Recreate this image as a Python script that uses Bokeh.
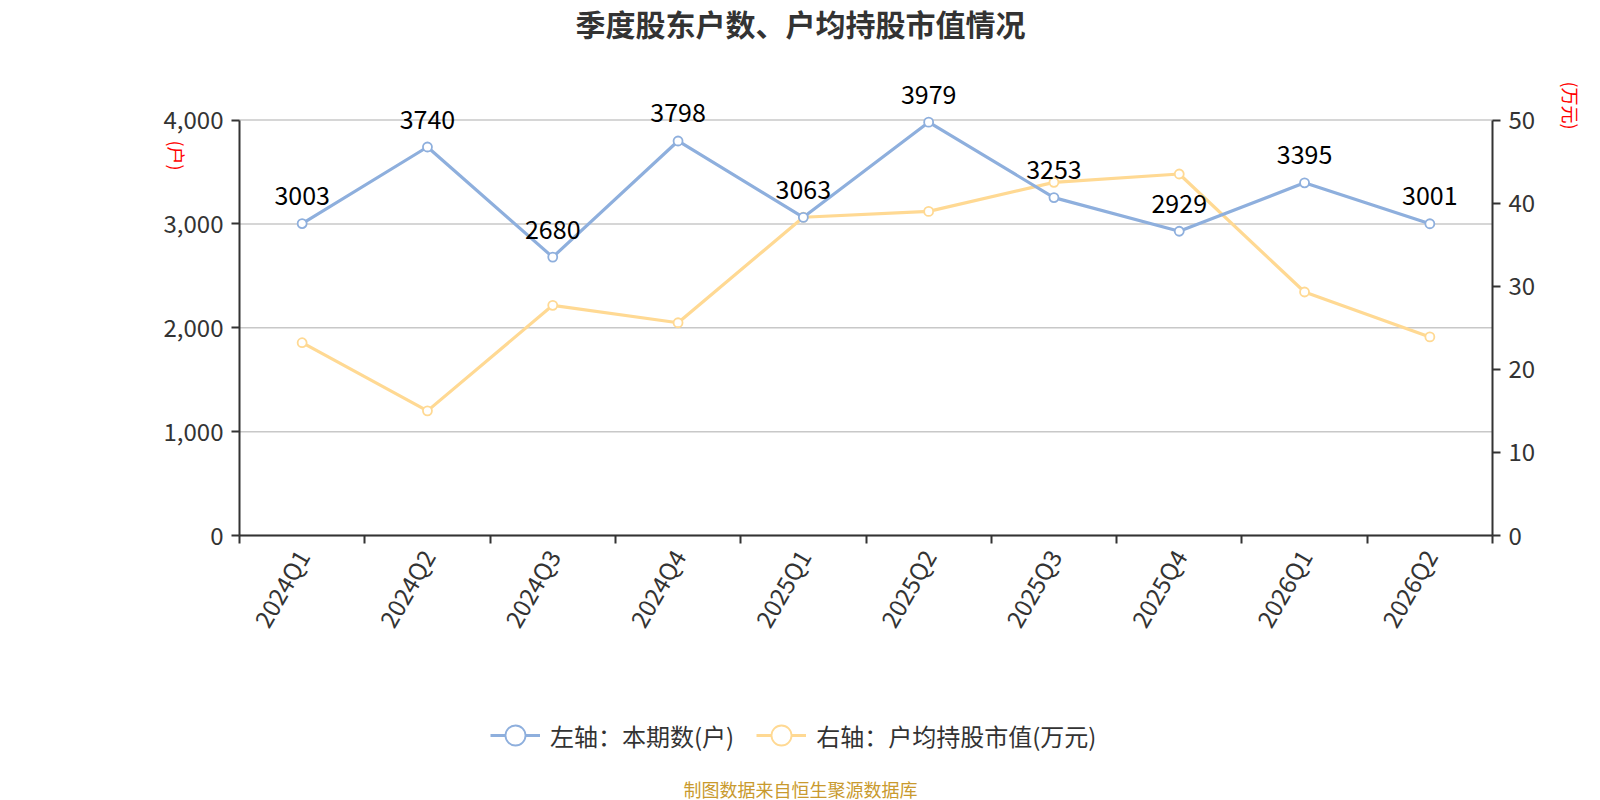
import math
from bokeh.plotting import figure
from bokeh.models import (Range1d, LinearAxis, FixedTicker, Label, Legend, LegendItem,
                          ColumnDataSource, NumeralTickFormatter)
from bokeh.core.properties import value
from bokeh.embed import file_html
from bokeh.resources import INLINE

# ---------------- data ----------------
quarters = ["2024Q1", "2024Q2", "2024Q3", "2024Q4", "2025Q1",
            "2025Q2", "2025Q3", "2025Q4", "2026Q1", "2026Q2"]
holders = [3003, 3740, 2680, 3798, 3063, 3979, 3253, 2929, 3395, 3001]
avg_value = [23.2, 15.0, 27.7, 25.6, 38.3, 39.0, 42.5, 43.5, 29.3, 23.9]
left_ticks = [0, 1000, 2000, 3000, 4000]
right_ticks = [0, 10, 20, 30, 40, 50]

title_text = "季度股东户数、户均持股市值情况"
left_name = "(户)"
right_name = "(万元)"
legend_left = "左轴：本期数(户)"
legend_right = "右轴：户均持股市值(万元)"
footer_text = "制图数据来自恒生聚源数据库"

# ---------------- style ----------------
BLUE = "#8eafdd"
YELLOW = "#ffd993"
AXIS = "#333333"
TEXT = "#333333"
FONT = "Noto Sans CJK SC"

W, H = 1584, 800
# plot-area edges in page pixels
PX_L, PX_R, PX_T, PX_B = 239, 1492, 119.5, 535
N = len(quarters)
YMAX = left_ticks[-1]
RMAX = right_ticks[-1]


def dx(px):
    return (px - PX_L) / (PX_R - PX_L) * N


def dy(py):
    return (PX_B - py) / (PX_B - PX_T) * YMAX


centers = [i + 0.5 for i in range(N)]
src = ColumnDataSource(dict(x=centers, h=holders, v=avg_value,
                            lab=[str(h) for h in holders]))

p = figure(width=W, height=H, output_backend="svg", toolbar_location=None,
           x_range=Range1d(dx(0), dx(W)), y_range=Range1d(dy(H), dy(0)),
           min_border=0, outline_line_color=None, background_fill_color="white",
           border_fill_color="white", title=None)
p.extra_y_ranges = {"right": Range1d(dy(H) * RMAX / YMAX, dy(0) * RMAX / YMAX)}
p.xgrid.visible = False
p.ygrid.visible = False

# horizontal grid lines across the plot area
p.segment(x0=[0] * len(left_ticks), x1=[N] * len(left_ticks), y0=left_ticks, y1=left_ticks,
          line_color="#c8c8c8", line_width=1.5)

# x axis
xa = p.xaxis[0]
xa.fixed_location = 0
xa.bounds = (0, N)
xa.ticker = FixedTicker(ticks=centers, minor_ticks=list(range(N + 1)))
xa.major_label_overrides = {c: q for c, q in zip(centers, quarters)}
xa.major_tick_out = 0
xa.major_tick_in = 0
xa.minor_tick_out = 8
xa.minor_tick_in = 0
xa.minor_tick_line_color = AXIS
xa.minor_tick_line_width = 2
xa.axis_line_color = AXIS
xa.axis_line_width = 2
xa.major_label_orientation = math.pi / 3
xa.major_label_text_font = FONT
xa.major_label_text_font_size = "24px"
xa.major_label_text_color = TEXT
xa.major_label_standoff = 8

# left y axis
ya = p.yaxis[0]
ya.fixed_location = 0
ya.bounds = (0, YMAX)
ya.ticker = FixedTicker(ticks=left_ticks)
ya.formatter = NumeralTickFormatter(format="0,0")
ya.major_tick_out = 8
ya.major_tick_in = 0
ya.minor_tick_out = 0
ya.minor_tick_in = 0
ya.major_tick_line_color = AXIS
ya.major_tick_line_width = 2
ya.axis_line_color = AXIS
ya.axis_line_width = 2
ya.major_label_text_font = FONT
ya.major_label_text_font_size = "24px"
ya.major_label_text_color = TEXT
ya.major_label_standoff = 8

# right y axis
ra = LinearAxis(y_range_name="right", ticker=FixedTicker(ticks=right_ticks))
ra.fixed_location = N
ra.bounds = (0, RMAX)
ra.major_tick_out = 8
ra.major_tick_in = 0
ra.minor_tick_out = 0
ra.minor_tick_in = 0
ra.major_tick_line_color = AXIS
ra.major_tick_line_width = 2
ra.axis_line_color = AXIS
ra.axis_line_width = 2
ra.major_label_text_font = FONT
ra.major_label_text_font_size = "24px"
ra.major_label_text_color = TEXT
ra.major_label_standoff = 8
p.add_layout(ra, "right")

# series
yl = p.line("x", "v", source=src, y_range_name="right", line_color=YELLOW, line_width=3.2)
ys = p.scatter("x", "v", source=src, y_range_name="right", size=9, marker="circle",
               line_color=YELLOW, line_width=1.8, fill_color="white")
bl = p.line("x", "h", source=src, line_color=BLUE, line_width=3.2)
bs = p.scatter("x", "h", source=src, size=9, marker="circle",
               line_color=BLUE, line_width=1.8, fill_color="white")

p.text("x", "h", text="lab", source=src, text_align="center", text_baseline="middle",
       y_offset=-28, text_font=value(FONT), text_font_size="25px", text_color="#000000")

# titles / names / footer
p.add_layout(Label(x=dx(800), y=dy(22.5), text=title_text, text_align="center",
                   text_baseline="middle", text_font=FONT, text_font_size="30px",
                   text_font_style="bold", text_color=TEXT))
p.add_layout(Label(x=dx(176), y=dy(155), text=left_name, text_align="center",
                   text_baseline="middle", angle=-math.pi / 2, text_font=FONT,
                   text_font_size="18px", text_color="#ff0000"))
p.add_layout(Label(x=dx(1570.5), y=dy(105), text=right_name, text_align="center",
                   text_baseline="middle", angle=-math.pi / 2, text_font=FONT,
                   text_font_size="18px", text_color="#ff0000"))
p.add_layout(Label(x=dx(800), y=dy(788), text=footer_text, text_align="center",
                   text_baseline="middle", text_font=FONT, text_font_size="18px",
                   text_color="#c99a2e"))

legend = Legend(items=[LegendItem(label=legend_left, renderers=[bl, bs]),
                       LegendItem(label=legend_right, renderers=[yl, ys])],
                location=(490, H - 735 - 25), orientation="horizontal",
                glyph_width=50, glyph_height=50, label_standoff=10, spacing=22,
                padding=0, margin=0, border_line_color=None, background_fill_alpha=0,
                label_text_font=FONT, label_text_font_size="24px", label_text_color=TEXT)
p.add_layout(legend, "center")

open("out.html", "w").write(file_html(p, INLINE))
